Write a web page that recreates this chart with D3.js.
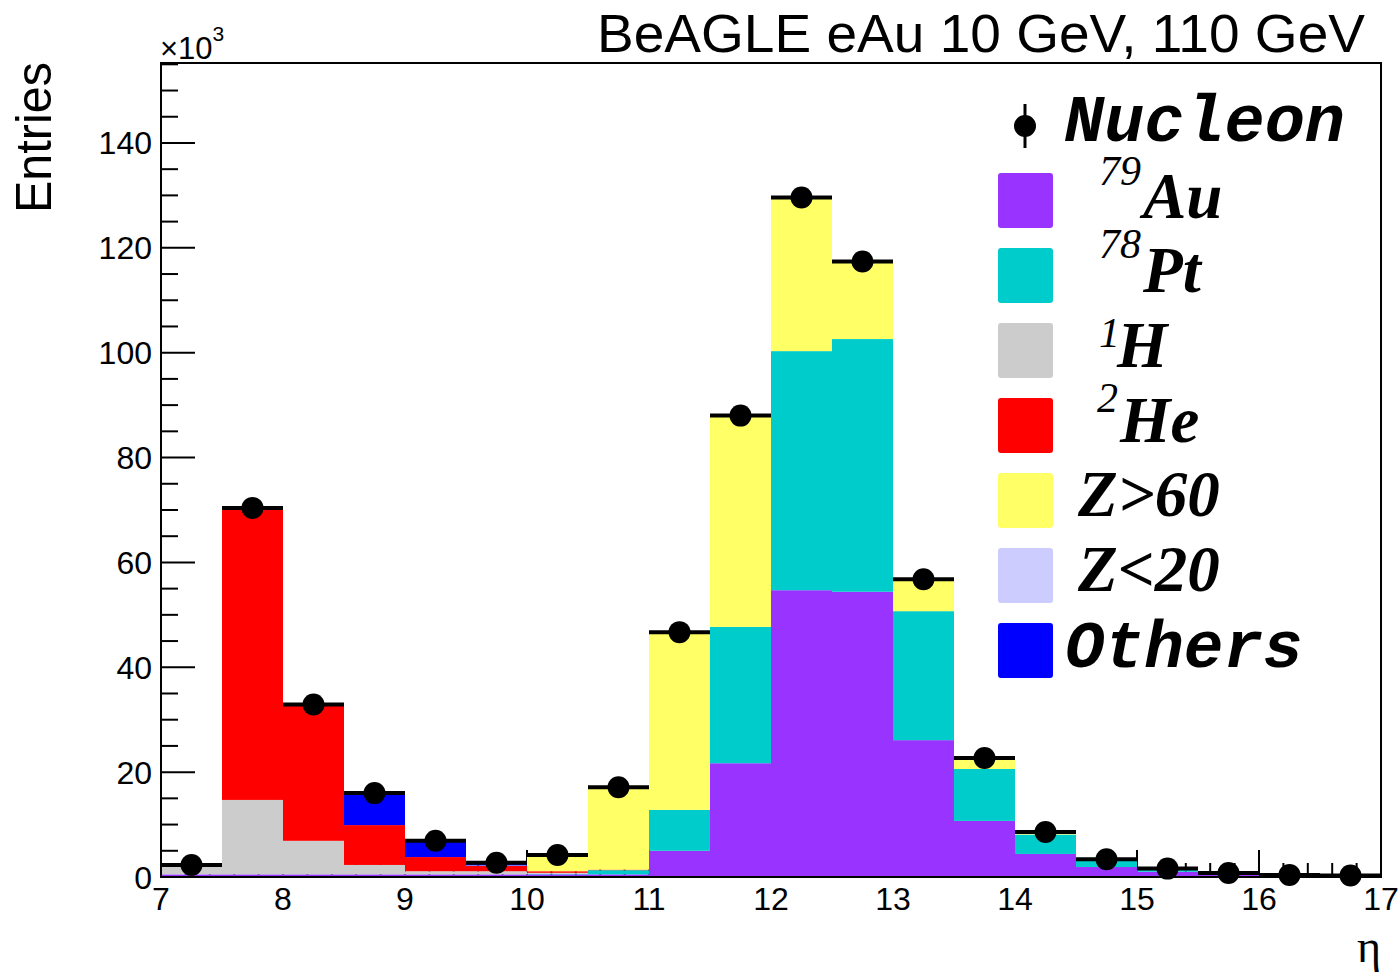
<!DOCTYPE html>
<html>
<head>
<meta charset="utf-8">
<script src="https://cdn.jsdelivr.net/npm/d3@7"></script>
<style>
  html, body { margin: 0; padding: 0; background: #fff; }
  svg { display: block; }
</style>
</head>
<body>
<svg id="chart" width="1400" height="980"></svg>
<script>
// ---------- data (values in units of 10^3 entries) ----------
const etaLow   = [7.0, 7.5, 8.0, 8.5, 9.0, 9.5, 10.0, 10.5, 11.0, 11.5, 12.0, 12.5, 13.0, 13.5, 14.0, 14.5, 15.0, 15.5, 16.0, 16.5];
const binWidth = 0.5;
const au79     = [0.5, 0.5, 0.5, 0.5, 0.5, 0.5, 0.5, 0.5, 5.0, 21.7, 54.7, 54.4, 26.1, 10.7, 4.4, 1.9, 1.0, 0.5, 0.3, 0.25];
const pt78     = [0, 0, 0, 0, 0, 0, 0.1, 0.8, 7.8, 26.0, 45.6, 48.2, 24.6, 9.9, 3.7, 1.3, 0.5, 0.2, 0.05, 0];
const h1       = [1.9, 14.2, 6.4, 1.8, 0.6, 0.6, 0.2, 0, 0, 0, 0, 0, 0, 0, 0, 0, 0, 0, 0, 0];
const he2      = [0, 55.8, 25.9, 7.6, 2.7, 1.0, 0.3, 0.1, 0, 0, 0, 0, 0, 0, 0, 0, 0, 0, 0, 0];
const zGt60    = [0, 0, 0, 0, 0, 0, 3.1, 15.7, 33.9, 40.2, 29.2, 14.7, 6.1, 2.1, 0.5, 0.2, 0.1, 0, 0, 0];
const zLt20    = [0, 0, 0, 0, 0, 0.1, 0, 0, 0, 0, 0, 0, 0, 0, 0, 0, 0, 0, 0, 0];
const others   = [0, 0, 0, 6.1, 3.2, 0.5, 0, 0, 0, 0, 0, 0, 0, 0, 0, 0, 0, 0, 0, 0];
const nucleon  = [2.3, 70.4, 32.9, 16.0, 6.9, 2.7, 4.2, 17.1, 46.7, 88.0, 129.6, 117.4, 56.8, 22.7, 8.6, 3.4, 1.6, 0.75, 0.4, 0.3];

const seriesKeys   = ["au", "pt", "h", "he", "zgt", "zlt", "oth"];
const seriesColors = ["#9933ff", "#00cccc", "#cccccc", "#ff0000", "#ffff66", "#ccccff", "#0000ff"];
const yTickValues  = [0, 20, 40, 60, 80, 100, 120, 140];
const xTickValues  = [7, 8, 9, 10, 11, 12, 13, 14, 15, 16, 17];

// ---------- layout ----------
const svg = d3.select("#chart");
const L = 161, R = 1381, T = 63, B = 877;
const x = d3.scaleLinear().domain([7, 17]).range([L, R]);
const y = d3.scaleLinear().domain([0, 155.25]).range([B, T]);

const table = etaLow.map((lo, i) => ({
  lo, au: au79[i], pt: pt78[i], h: h1[i], he: he2[i], zgt: zGt60[i], zlt: zLt20[i], oth: others[i]
}));
const stacked = d3.stack().keys(seriesKeys)(table);

// ---------- ticks (drawn under bars, as in the original) ----------
const ticks = svg.append("g").attr("stroke", "#000").attr("stroke-width", 2);
d3.range(0, 156, 5).forEach(v => {
  const major = v % 20 === 0;
  ticks.append("line").attr("x1", L).attr("x2", L + (major ? 34 : 17))
    .attr("y1", y(v)).attr("y2", y(v));
});
d3.range(0, 51).forEach(k => {
  const v = 7 + k * 0.2;
  const major = k % 5 === 0;
  ticks.append("line").attr("x1", x(v)).attr("x2", x(v))
    .attr("y1", B).attr("y2", B - (major ? 27 : 14));
});

// ---------- stacked bars ----------
const bars = svg.append("g");
stacked.forEach((layer, si) => {
  bars.append("g").attr("fill", seriesColors[si])
    .selectAll("rect").data(layer).join("rect")
    .attr("x", d => x(d.data.lo))
    .attr("width", d => x(d.data.lo + binWidth) - x(d.data.lo))
    .attr("y", d => y(d[1]))
    .attr("height", d => Math.max(0, y(d[0]) - y(d[1])));
});

// ---------- Nucleon points with x error bars ----------
const pts = svg.append("g");
pts.selectAll("line").data(etaLow).join("line")
  .attr("x1", (d) => x(d)).attr("x2", d => x(d + binWidth))
  .attr("y1", (d, i) => y(nucleon[i])).attr("y2", (d, i) => y(nucleon[i]))
  .attr("stroke", "#000").attr("stroke-width", 4);
pts.selectAll("circle").data(etaLow).join("circle")
  .attr("cx", d => x(d + binWidth / 2))
  .attr("cy", (d, i) => y(nucleon[i]))
  .attr("r", 11).attr("fill", "#000");

// ---------- frame ----------
svg.append("rect").attr("x", L).attr("y", T).attr("width", R - L).attr("height", B - T)
  .attr("fill", "none").attr("stroke", "#000").attr("stroke-width", 2);

// ---------- axis labels ----------
const sans = "'Liberation Sans', Arial, Helvetica, sans-serif";
const yl = svg.append("g").attr("font-family", sans).attr("font-size", 32).attr("text-anchor", "end");
yTickValues.forEach(v => {
  yl.append("text").attr("x", 152).attr("y", y(v)).attr("dy", "0.36em").text(v);
});
const xl = svg.append("g").attr("font-family", sans).attr("font-size", 32).attr("text-anchor", "middle");
xTickValues.forEach(v => {
  xl.append("text").attr("x", x(v)).attr("y", 910).text(v);
});

// x10^3
const mult = svg.append("text").attr("font-family", sans).attr("x", 160).attr("y", 59).attr("font-size", 31);
mult.append("tspan").text("×10");
mult.append("tspan").attr("font-size", 21).attr("dy", -18).text("3");

// Entries
svg.append("text").attr("font-family", sans).attr("font-size", 50)
  .attr("text-anchor", "end")
  .attr("transform", "translate(51,62) rotate(-90)")
  .attr("textLength", 151).attr("lengthAdjust", "spacingAndGlyphs")
  .text("Entries");

// eta
svg.append("text").attr("font-family", "'Liberation Serif', 'Times New Roman', serif")
  .attr("font-size", 46).attr("text-anchor", "end").attr("x", 1381).attr("y", 962).text("η");

// Title
svg.append("text").attr("font-family", sans).attr("font-size", 53)
  .attr("x", 597).attr("y", 52)
  .attr("textLength", 768).attr("lengthAdjust", "spacingAndGlyphs")
  .text("BeAGLE eAu 10 GeV, 110 GeV");

// ---------- legend ----------
const leg = svg.append("g");
const serif = "'Liberation Serif', 'Times New Roman', serif";
const mono = "'Liberation Mono', 'Courier New', monospace";
// Nucleon
leg.append("line").attr("x1", 1025).attr("x2", 1025).attr("y1", 104).attr("y2", 148)
  .attr("stroke", "#000").attr("stroke-width", 3);
leg.append("circle").attr("cx", 1025).attr("cy", 126).attr("r", 11).attr("fill", "#000");
leg.append("text").attr("font-family", mono).attr("font-weight", "bold").attr("font-style", "italic")
  .attr("font-size", 66).attr("x", 1064).attr("y", 141)
  .attr("textLength", 281).attr("lengthAdjust", "spacingAndGlyphs").text("Nucleon");

const legendEntries = [
  { sup: "79", main: "Au", supX: 1099, mainX: 1143, base: 218, supDy: -33, font: "serif" },
  { sup: "78", main: "Pt", supX: 1099, mainX: 1143, base: 292, supDy: -34, font: "serif" },
  { sup: "1",  main: "H",  supX: 1099, mainX: 1117, base: 367, supDy: -20, font: "serif" },
  { sup: "2",  main: "He", supX: 1097, mainX: 1120, base: 442, supDy: -30, font: "serif" },
  { sup: "",   main: "Z>60", supX: 0, mainX: 1078, base: 516, supDy: 0, font: "serif" },
  { sup: "",   main: "Z<20", supX: 0, mainX: 1078, base: 591, supDy: 0, font: "serif" },
  { sup: "",   main: "Others", supX: 0, mainX: 1065, base: 667, supDy: 0, font: "mono" }
];
legendEntries.forEach((e, i) => {
  const cy = 200.5 + i * 75;
  leg.append("rect").attr("x", 998).attr("y", cy - 27.5).attr("width", 55).attr("height", 55)
    .attr("rx", 3).attr("fill", seriesColors[i]);
  const t = leg.append("text").attr("font-family", e.font === "mono" ? mono : serif)
    .attr("font-style", "italic").attr("y", e.base);
  if (e.sup) {
    t.append("tspan").attr("x", e.supX).attr("dy", e.supDy)
      .attr("font-size", 42).attr("font-weight", "normal").text(e.sup);
    t.append("tspan").attr("x", e.mainX).attr("dy", -e.supDy)
      .attr("font-size", 65).attr("font-weight", "bold").text(e.main);
  } else {
    t.append("tspan").attr("x", e.mainX)
      .attr("font-size", e.font === "mono" ? 66 : 65).attr("font-weight", "bold").text(e.main);
  }
});
</script>
</body>
</html>
